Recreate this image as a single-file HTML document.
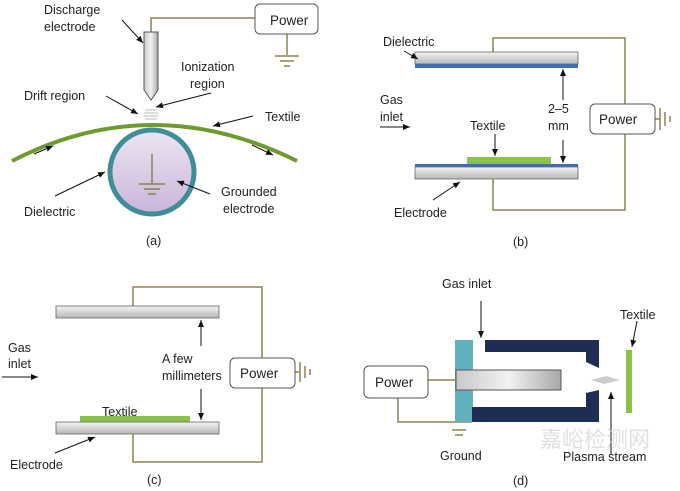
<!DOCTYPE html><html><head><style>body{margin:0;background:#fff}svg{display:block}text{font-family:"Liberation Sans",Arial,sans-serif;font-size:12.5px;fill:#222}</style></head><body>
<svg width="680" height="491" viewBox="0 0 680 491" xmlns="http://www.w3.org/2000/svg">
<defs>
<marker id="ar" markerWidth="8" markerHeight="8" refX="7" refY="4" orient="auto" markerUnits="userSpaceOnUse"><path d="M0,1 L7,4 L0,7z" fill="#111"/></marker>
<linearGradient id="rod" x1="0" y1="0" x2="1" y2="0"><stop offset="0" stop-color="#c8c8c8"/><stop offset=".5" stop-color="#f2f2f2"/><stop offset="1" stop-color="#a8a8a8"/></linearGradient>
<linearGradient id="plate" x1="0" y1="0" x2="0" y2="1"><stop offset="0" stop-color="#f4f4f4"/><stop offset="1" stop-color="#b8b8b8"/></linearGradient>
<linearGradient id="circ" x1="0" y1="0" x2="0" y2="1"><stop offset="0" stop-color="#ece6f2"/><stop offset="1" stop-color="#c9b4d9"/></linearGradient>
</defs>
<g stroke="#8a8450" stroke-width="1.5" fill="none">
<polyline points="151,33 151,18 255,18"/><line x1="287" y1="34" x2="287" y2="55"/>
<line x1="275" y1="56" x2="299" y2="56"/><line x1="280" y1="61" x2="294" y2="61"/><line x1="284" y1="66" x2="290" y2="66"/>
<polyline points="493,52 493,38 625,38 625,104"/><polyline points="493,179 493,210 625,210 625,134"/>
<line x1="655" y1="119" x2="660" y2="119"/><line x1="660" y1="108" x2="660" y2="130"/><line x1="665" y1="112" x2="665" y2="126"/><line x1="670" y1="116" x2="670" y2="122"/>
<polyline points="133,306 133,287 262,287 262,358"/><polyline points="133,434 133,462 262,462 262,387"/>
<line x1="295" y1="372" x2="300" y2="372"/><line x1="300" y1="362" x2="300" y2="382"/><line x1="305" y1="366" x2="305" y2="378"/><line x1="310" y1="369" x2="310" y2="375"/>
<line x1="428" y1="380" x2="456" y2="380"/><polyline points="398,398 398,422 472,422"/>
<line x1="452" y1="430" x2="466" y2="430"/><line x1="455" y1="435" x2="463" y2="435"/>
</g>
<g fill="#fff" stroke="#555" stroke-width="1">
<rect x="255" y="4" width="63" height="30" rx="5"/><rect x="590" y="104" width="65" height="30" rx="5"/>
<rect x="230" y="358" width="65" height="30" rx="5"/><rect x="364" y="366" width="64" height="32" rx="5"/>
</g>
<path d="M144,32 H158 V90 L151,100 L144,90Z" fill="url(#rod)" stroke="#555"/>
<g stroke="#bbb" stroke-width="1"><line x1="145" y1="110" x2="156" y2="110"/><line x1="144" y1="113" x2="158" y2="113"/><line x1="144" y1="116" x2="158" y2="116"/><line x1="145" y1="119" x2="157" y2="119"/></g>
<path d="M12,161 Q152,89 297,161" fill="none" stroke="#6e9a2e" stroke-width="4"/>
<circle cx="152" cy="172" r="42" fill="url(#circ)" stroke="#3f8d98" stroke-width="5"/>
<g stroke="#8a8450" stroke-width="1.5"><line x1="152" y1="154" x2="152" y2="183"/><line x1="139" y1="184" x2="165" y2="184"/><line x1="144" y1="189" x2="160" y2="189"/><line x1="148" y1="194" x2="156" y2="194"/></g>
<rect x="415" y="52" width="163" height="12" fill="url(#plate)" stroke="#666" stroke-width=".8"/><rect x="415" y="64" width="163" height="4" fill="#3f6fb3"/>
<rect x="467" y="157" width="84" height="7" fill="#8bc34a"/>
<rect x="415" y="164" width="163" height="3" fill="#3f6fb3"/><rect x="415" y="167" width="163" height="12" fill="url(#plate)" stroke="#666" stroke-width=".8"/>
<rect x="56" y="306" width="163" height="12" fill="url(#plate)" stroke="#666" stroke-width=".8"/>
<rect x="80" y="416" width="110" height="6" fill="#8bc34a"/>
<rect x="56" y="422" width="163" height="12" fill="url(#plate)" stroke="#666" stroke-width=".8"/>
<rect x="455" y="340" width="18" height="82" fill="#62b0bc"/>
<path d="M485,340 H599 V368 L586,362 V352 H485Z M586,393 L599,390 V422 H472 V407 H586Z" fill="#1f2d55"/>
<rect x="456" y="370" width="105" height="20" fill="url(#rod)" stroke="#555"/>
<path d="M591,380 L606,376 L620,380 L604,384Z" fill="#ccc"/>
<rect x="626" y="350" width="6" height="63" fill="#8bc34a"/>
<g stroke="#111" stroke-width="1" marker-end="url(#ar)">
<line x1="122" y1="20" x2="143" y2="43"/><line x1="211" y1="93" x2="156" y2="107"/><line x1="106" y1="96" x2="138" y2="114"/>
<line x1="253" y1="116" x2="213" y2="126"/><line x1="34" y1="154" x2="53" y2="146"/><line x1="252" y1="145" x2="273" y2="155"/>
<line x1="55" y1="196" x2="105" y2="172"/><line x1="210" y1="194" x2="177" y2="181"/>
<line x1="404" y1="51" x2="418" y2="59"/><line x1="380" y1="127" x2="410" y2="127"/><line x1="495" y1="134" x2="495" y2="156"/><line x1="433" y1="200" x2="460" y2="182"/>
<line x1="563" y1="100" x2="563" y2="69"/><line x1="563" y1="140" x2="563" y2="163"/>
<line x1="2" y1="377" x2="38" y2="377"/><line x1="201" y1="346" x2="201" y2="320"/><line x1="201" y1="389" x2="201" y2="420"/><line x1="55" y1="453" x2="95" y2="437"/>
<line x1="481" y1="301" x2="481" y2="338"/><line x1="637" y1="321" x2="632" y2="347"/><line x1="611" y1="455" x2="611" y2="392"/>
</g>
<text x="44" y="14">Discharge</text><text x="44" y="31">electrode</text>
<text x="181" y="71">Ionization</text><text x="190" y="88">region</text>
<text x="24" y="100">Drift region</text><text x="265" y="121">Textile</text>
<text x="24" y="216">Dielectric</text><text x="221" y="196">Grounded</text><text x="223" y="213">electrode</text>
<text x="270" y="25" style="font-size:13.5px">Power</text><text x="146" y="245">(a)</text>
<text x="383" y="46">Dielectric</text><text x="380" y="104">Gas</text><text x="380" y="121">inlet</text>
<text x="470" y="130">Textile</text><text x="548" y="113">2–5</text><text x="548" y="130">mm</text>
<text x="394" y="217">Electrode</text><text x="599" y="124" style="font-size:13.5px">Power</text><text x="513" y="246">(b)</text>
<text x="8" y="352">Gas</text><text x="8" y="368">inlet</text><text x="162" y="363">A few</text><text x="162" y="380">millimeters</text>
<text x="102" y="416">Textile</text><text x="10" y="469">Electrode</text><text x="240" y="378" style="font-size:13.5px">Power</text><text x="147" y="484">(c)</text>
<text x="442" y="288">Gas inlet</text><text x="620" y="319">Textile</text><text x="375" y="387" style="font-size:13.5px">Power</text>
<text x="440" y="460">Ground</text><text x="563" y="461">Plasma stream</text><text x="513" y="485">(d)</text>
<text x="540" y="447" style="font-size:22px;fill:#ccc;opacity:.6">嘉峪检测网</text>
</svg></body></html>
